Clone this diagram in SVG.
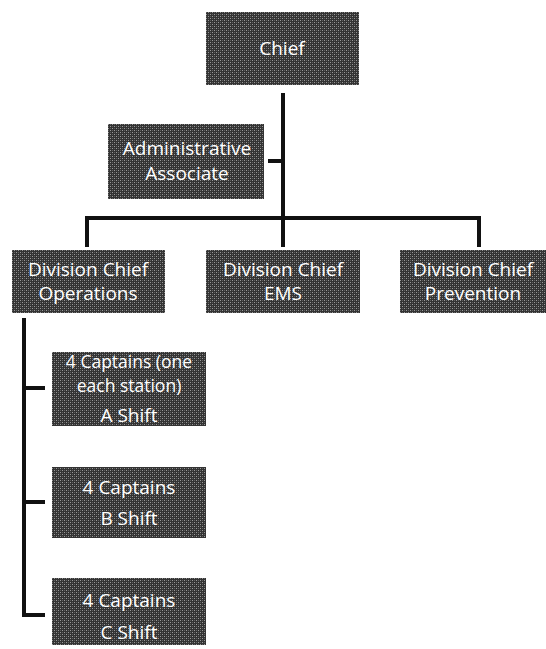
<svg xmlns="http://www.w3.org/2000/svg" width="546" height="649" viewBox="0 0 546 649">
<defs>
<pattern id="dither" width="4" height="4" patternUnits="userSpaceOnUse">
<rect width="4" height="4" fill="#333333"/>
<rect x="0" y="0" width="1" height="1" fill="#999999"/>
<rect x="2" y="2" width="1" height="1" fill="#999999"/>
<rect x="2" y="0" width="1" height="1" fill="#606060"/>
<rect x="0" y="2" width="1" height="1" fill="#606060"/>
</pattern>
</defs>
<style>
.box{fill:url(#dither);}
.t{font-family:"Open Sans","Liberation Sans",sans-serif;font-size:19px;fill:#ffffff;text-anchor:middle;}
.s{font-size:17.5px;}
.c{stroke:#111;stroke-width:4;fill:none;stroke-linejoin:miter;}
</style>
<rect width="546" height="649" fill="#ffffff"/>
<g id="connectors">
<path class="c" d="M283 93 V219"/>
<path class="c" d="M268 161 H283"/>
<path class="c" d="M87 247 V218 H479 V247"/>
<path class="c" d="M283 219 V247"/>
<path class="c" d="M24 318 V615 H45"/>
<path class="c" d="M24 388 H45"/>
<path class="c" d="M24 502 H45"/>
</g>
<g id="chief"><rect class="box" x="206" y="12" width="153" height="73"/><text class="t" x="282" y="55">Chief</text></g>
<g id="admin"><rect class="box" x="108" y="124" width="156" height="75"/><text class="t" x="187" y="155">Administrative</text><text class="t" x="187" y="180">Associate</text></g>
<g id="div-ops"><rect class="box" x="12" y="250" width="153" height="63"/><text class="t" x="88" y="276">Division Chief</text><text class="t" x="88" y="300">Operations</text></g>
<g id="div-ems"><rect class="box" x="206" y="250" width="154" height="63"/><text class="t" x="283" y="276">Division Chief</text><text class="t" x="283" y="300">EMS</text></g>
<g id="div-prev"><rect class="box" x="400" y="250" width="146" height="63"/><text class="t" x="473" y="276">Division  Chief</text><text class="t" x="473" y="300">Prevention</text></g>
<g id="cap-a"><rect class="box" x="52" y="352" width="154" height="74"/><text class="t s" x="129" y="368">4 Captains (one</text><text class="t s" x="129" y="392">each station)</text><text class="t" x="129" y="422">A Shift</text></g>
<g id="cap-b"><rect class="box" x="52" y="467" width="154" height="71"/><text class="t" x="129" y="494">4 Captains</text><text class="t" x="129" y="525">B Shift</text></g>
<g id="cap-c"><rect class="box" x="52" y="578" width="154" height="67"/><text class="t" x="129" y="607">4 Captains</text><text class="t" x="129" y="639">C Shift</text></g>
</svg>
